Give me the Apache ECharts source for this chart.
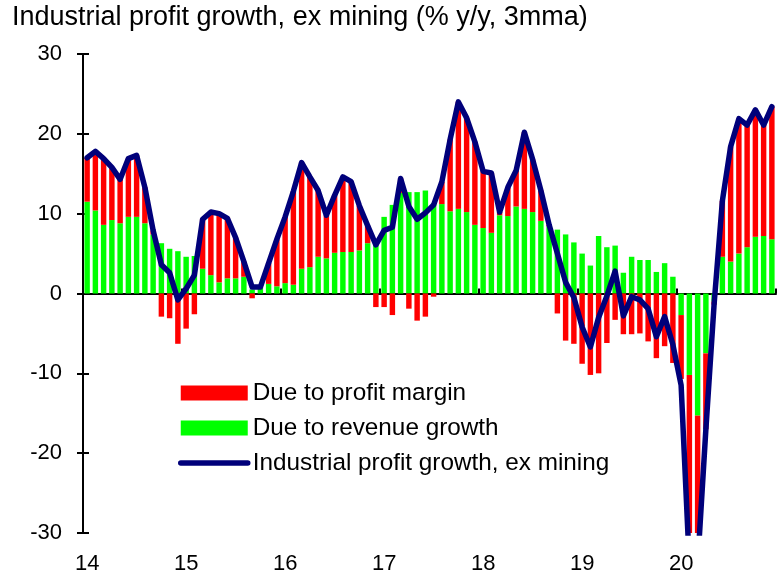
<!DOCTYPE html>
<html>
<head>
<meta charset="utf-8">
<script src="https://cdn.jsdelivr.net/npm/echarts@6/dist/echarts.min.js"></script>
<style>
  html, body { margin: 0; padding: 0; background: #fff; }
  #chart { width: 777px; height: 579px; }
</style>
</head>
<body>
<div id="chart"></div>
<script>
// year labels on the x axis, one per January
var years = ['14', '15', '16', '17', '18', '19', '20'];

// monthly categories Jan 2014 .. Dec 2020
var months = [];
years.forEach(function (y) {
  for (var m = 1; m <= 12; m++) months.push(y + '-' + (m < 10 ? '0' : '') + m);
});

// contribution from revenue growth (green)
var revenueGrowth = [
  11.5, 10.4, 8.6, 9.2, 8.8, 9.6, 9.6, 8.8, 7.4, 6.3, 5.6, 5.3,
  4.6, 4.7, 3.1, 2.3, 1.4, 1.9, 1.9, 2.1, 0.5, 0.7, 1.2, 0.9,
  1.3, 1.1, 3.1, 3.3, 4.6, 4.4, 5.1, 5.2, 5.2, 5.4, 6.3, 6.5,
  9.6, 11.1, 12.6, 12.7, 12.7, 12.9, 11.3, 11.2, 10.3, 10.6, 10.2, 8.6,
  8.2, 7.6, 9.8, 9.7, 10.9, 10.6, 10.2, 9.1, 8.4, 8.0, 7.4, 6.4,
  5.0, 3.5, 7.2, 5.8, 6.0, 2.6, 4.6, 4.2, 4.2, 2.7, 3.8, 2.1,
  -2.7, -10.2, -15.3, -7.5, -1.0, 4.6, 4.0, 5.0, 5.8, 7.1, 7.2, 6.8
];

// contribution from profit margin (red)
var profitMargin = [
  5.5, 7.4, 8.4, 6.6, 5.5, 7.3, 7.7, 4.5, 0.5, -2.9, -3.1, -6.3,
  -4.4, -2.6, 6.2, 7.9, 8.6, 7.6, 5.1, 1.9, -0.6, 0.1, 2.6, 5.9,
  8.3, 11.7, 13.3, 11.3, 8.3, 5.4, 7.2, 9.4, 8.8, 5.6, 2.2, -1.7,
  -1.7, -2.7, 1.8, -1.9, -3.4, -2.9, -0.4, 2.8, 9.0, 13.4, 11.8, 10.4,
  7.1, 7.5, 0.4, 3.6, 4.5, 9.6, 6.6, 3.8, 0.2, -2.5, -5.9, -6.3,
  -8.8, -10.2, -10.0, -6.2, -3.3, -5.1, -5.1, -5.0, -6.0, -8.1, -6.6, -8.7,
  -8.0, -21.0, -18.0, -9.5, -0.4, 7.0, 14.4, 16.9, 15.3, 15.9, 13.9, 16.6
];

// industrial profit growth ex mining, % y/y 3mma (navy line)
var profitGrowth = [
  17.0, 17.8, 16.9, 15.8, 14.3, 16.9, 17.3, 13.3, 7.9, 3.6, 2.6, -0.8,
  0.6, 2.3, 9.3, 10.2, 10.0, 9.4, 7.0, 4.0, 0.8, 0.8, 3.8, 6.8,
  9.6, 12.8, 16.4, 14.6, 12.9, 9.8, 12.3, 14.6, 14.0, 11.0, 8.5, 6.1,
  7.9, 8.3, 14.4, 10.9, 9.3, 10.1, 11.1, 14.0, 19.3, 24.0, 22.0, 19.0,
  15.3, 15.1, 10.2, 13.3, 15.4, 20.2, 16.8, 12.9, 8.6, 5.0, 1.4, -0.5,
  -4.2, -6.7, -3.0, -0.3, 2.8, -2.8, -0.4, -0.8, -1.9, -5.4, -2.9, -6.4,
  -11.5, -34, -34, -17, -1.3, 11.6, 18.4, 21.9, 21.1, 23.0, 21.1, 23.4
];

var yMin = -30, yMax = 30, yStep = 10;
var font = 'Liberation Sans, Arial, sans-serif';
var navy = '#00007a';

var chart = echarts.init(document.getElementById('chart'));

var isJan = function (idx) { return idx % 12 === 0; };

var option = {
  animation: false,
  backgroundColor: '#fff',
  title: {
    text: 'Industrial profit growth, ex mining (% y/y, 3mma)',
    left: 8,
    top: 2,
    padding: [2, 4],
    textStyle: { fontFamily: font, fontSize: 27, fontWeight: 'normal', color: '#000' }
  },
  legend: {
    orient: 'vertical',
    left: 178,
    top: 381,
    padding: 0,
    itemWidth: 67,
    itemHeight: 15,
    itemGap: 11,
    textStyle: { fontFamily: font, fontSize: 24.3, color: '#000' },
    data: [
      { name: 'Due to profit margin', icon: 'rect' },
      { name: 'Due to revenue growth', icon: 'rect' },
      {
        name: 'Industrial profit growth, ex mining',
        itemStyle: { opacity: 0 },
        lineStyle: { width: 5.5, color: navy }
      }
    ]
  },
  grid: { left: 83, right: 1, top: 54, bottom: 46 },
  xAxis: [
    {
      type: 'category',
      data: months,
      position: 'bottom',
      axisLine: { show: false, onZero: false },
      axisTick: { show: false },
      axisLabel: {
        interval: function (idx) { return isJan(idx); },
        formatter: function (v) { return v.slice(0, 2); },
        margin: 20,
        fontFamily: font,
        fontSize: 22,
        color: '#000'
      },
      splitLine: { show: false }
    },
    {
      type: 'category',
      data: months,
      position: 'bottom',
      axisLine: { show: true, onZero: true, lineStyle: { color: '#000', width: 2 } },
      axisTick: {
        show: true,
        inside: true,
        length: 5,
        interval: function (idx) { return isJan(idx); },
        lineStyle: { color: '#000', width: 2 }
      },
      axisLabel: { show: false },
      splitLine: { show: false }
    }
  ],
  yAxis: [
    {
      type: 'value',
      min: yMin,
      max: yMax,
      interval: yStep,
      axisLine: { show: true, lineStyle: { color: '#000', width: 2 } },
      axisTick: { show: true, length: 6, lineStyle: { color: '#000', width: 2 } },
      axisLabel: { margin: 21, fontFamily: font, fontSize: 22, color: '#000' },
      splitLine: { show: false }
    },
    {
      type: 'value',
      position: 'left',
      min: yMin,
      max: yMax,
      interval: yStep,
      axisLine: { show: false },
      axisTick: { show: true, inside: true, length: 6, lineStyle: { color: '#000', width: 2 } },
      axisLabel: { show: false },
      splitLine: { show: false }
    }
  ],
  series: [
    {
      name: 'Due to revenue growth',
      type: 'bar',
      stack: 'contrib',
      data: revenueGrowth,
      barCategoryGap: '34%',
      itemStyle: { color: '#00ff00' }
    },
    {
      name: 'Due to profit margin',
      type: 'bar',
      stack: 'contrib',
      data: profitMargin,
      barCategoryGap: '34%',
      itemStyle: { color: '#ff0000' }
    },
    {
      name: 'Industrial profit growth, ex mining',
      type: 'line',
      data: profitGrowth,
      symbol: 'none',
      clip: true,
      z: 5,
      itemStyle: { color: navy },
      lineStyle: { color: navy, width: 5.5, join: 'round', cap: 'round' }
    }
  ]
};

chart.setOption(option);
</script>
</body>
</html>
